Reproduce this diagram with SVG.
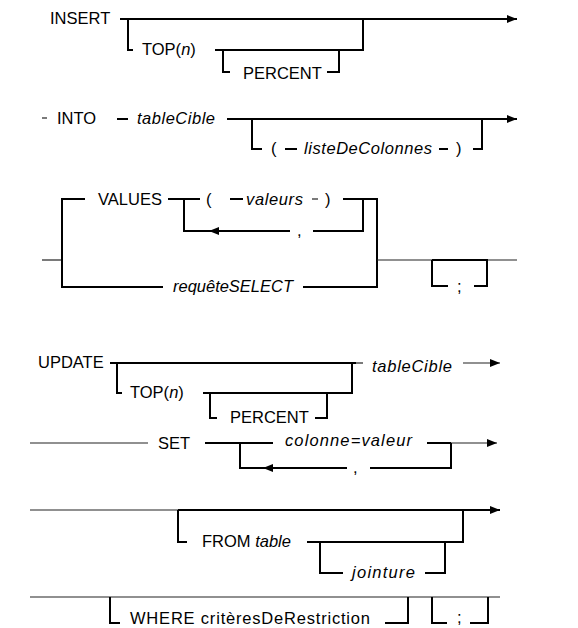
<svg xmlns="http://www.w3.org/2000/svg" width="578" height="628" viewBox="0 0 578 628">
<style>
text{font-family:"Liberation Sans",Arial,sans-serif;font-size:16.5px;fill:#000}
.i{font-style:italic}
.k{stroke:#000;stroke-width:2;fill:none}
.t{stroke:#222;stroke-width:1.2;fill:none}
</style>
<defs>
<marker id="ah" markerWidth="10" markerHeight="8" refX="10" refY="4" orient="auto" markerUnits="userSpaceOnUse"><path d="M0,0 L10,4 L0,8 z" fill="#000"/></marker>
</defs>
<rect width="578" height="628" fill="#fff"/>
<g id="connectors">
<path class="k" d="M120,19 H517" marker-end="url(#ah)"/>
<path class="k" d="M128,19 V50 H133"/>
<path class="k" d="M215,50 H363 V19"/>
<path class="k" d="M223,50 V72 H230"/>
<path class="k" d="M327,72 H339 V50"/>
<path class="t" d="M42,118 H47"/>
<path class="k" d="M117,119 H128"/>
<path class="k" d="M227,119 H517" marker-end="url(#ah)"/>
<path class="k" d="M252,119 V149 H262"/>
<path class="k" d="M285,149 H297"/>
<path class="k" d="M439,149 H448"/>
<path class="k" d="M473,149 H482 V119"/>
<path class="t" d="M42,260 H62"/>
<path class="k" d="M85,199 H62 V287 H163"/>
<path class="k" d="M168,199 H200"/>
<path class="k" d="M184,199 V231 H212"/>
<path class="k" d="M290,231 H209" marker-end="url(#ah)"/>
<path class="k" d="M230,199 H243"/>
<path class="t" d="M312,199 H318"/>
<path class="k" d="M343,199 H377 V287 H303"/>
<path class="k" d="M363,199 V231 H313"/>
<path class="t" d="M377,260 H517"/>
<path class="k" d="M432,260 H487 V286 H474"/>
<path class="k" d="M432,260 V286 H448"/>
<path class="k" d="M110,363 H356"/>
<path class="t" d="M356,363 H363"/>
<path class="t" d="M463,363 H500" marker-end="url(#ah)"/>
<path class="k" d="M117,363 V393 H122"/>
<path class="k" d="M203,393 H352 V363"/>
<path class="k" d="M210,393 V418 H217"/>
<path class="k" d="M315,418 H327 V393"/>
<path class="t" d="M30,443 H148"/>
<path class="k" d="M205,443 H273"/>
<path class="k" d="M427,443 H451"/>
<path class="t" d="M451,443 H497" marker-end="url(#ah)"/>
<path class="k" d="M240,443 V468 H265"/>
<path class="k" d="M347,468 H263" marker-end="url(#ah)"/>
<path class="k" d="M370,468 H451 V443"/>
<path class="t" d="M30,510 H178"/>
<path class="k" d="M178,510 H500" marker-end="url(#ah)"/>
<path class="k" d="M178,510 V542 H187"/>
<path class="k" d="M307,542 H463 V510"/>
<path class="k" d="M320,542 V573 H343"/>
<path class="k" d="M425,573 H445 V542"/>
<path class="t" d="M30,597 H500"/>
<path class="k" d="M110,597 V623 H120"/>
<path class="k" d="M385,623 H408 V597"/>
<path class="k" d="M432,597 V623 H447"/>
<path class="k" d="M470,623 H488 V597"/>
</g>
<g id="n-insert"><text x="50" y="24">INSERT</text></g>
<g id="n-top1"><text x="142" y="55">TOP(<tspan class="i">n</tspan>)</text></g>
<g id="n-percent1"><text x="243" y="79">PERCENT</text></g>
<g id="n-into"><text x="57" y="124">INTO</text></g>
<g id="n-tablecible1"><text class="i" x="137" y="124" textLength="78">tableCible</text></g>
<g id="n-listecolonnes"><text x="271" y="154">(</text><text class="i" x="304" y="154" textLength="128">listeDeColonnes</text><text x="456" y="154">)</text></g>
<g id="n-values"><text x="98" y="205">VALUES</text></g>
<g id="n-valeurs"><text x="206" y="205">(</text><text class="i" x="246" y="205" textLength="57">valeurs</text><text x="325" y="205">)</text></g>
<g id="n-comma1"><text x="297" y="236">,</text></g>
<g id="n-requete"><text class="i" x="173" y="292" textLength="120">requêteSELECT</text></g>
<g id="n-semi1"><text x="457" y="292">;</text></g>
<g id="n-update"><text x="38" y="368">UPDATE</text></g>
<g id="n-top2"><text x="130" y="398">TOP(<tspan class="i">n</tspan>)</text></g>
<g id="n-percent2"><text x="230" y="423">PERCENT</text></g>
<g id="n-tablecible2"><text class="i" x="372" y="372" textLength="80">tableCible</text></g>
<g id="n-set"><text x="158" y="449">SET</text></g>
<g id="n-colval"><text class="i" x="285" y="446" textLength="127">colonne=valeur</text></g>
<g id="n-comma2"><text x="353" y="473">,</text></g>
<g id="n-from"><text x="202" y="547">FROM <tspan class="i">table</tspan></text></g>
<g id="n-jointure"><text class="i" x="352" y="578" textLength="63">jointure</text></g>
<g id="n-where"><text x="130" y="624" textLength="240">WHERE critèresDeRestriction</text></g>
<g id="n-semi2"><text x="457" y="623">;</text></g>
</svg>
